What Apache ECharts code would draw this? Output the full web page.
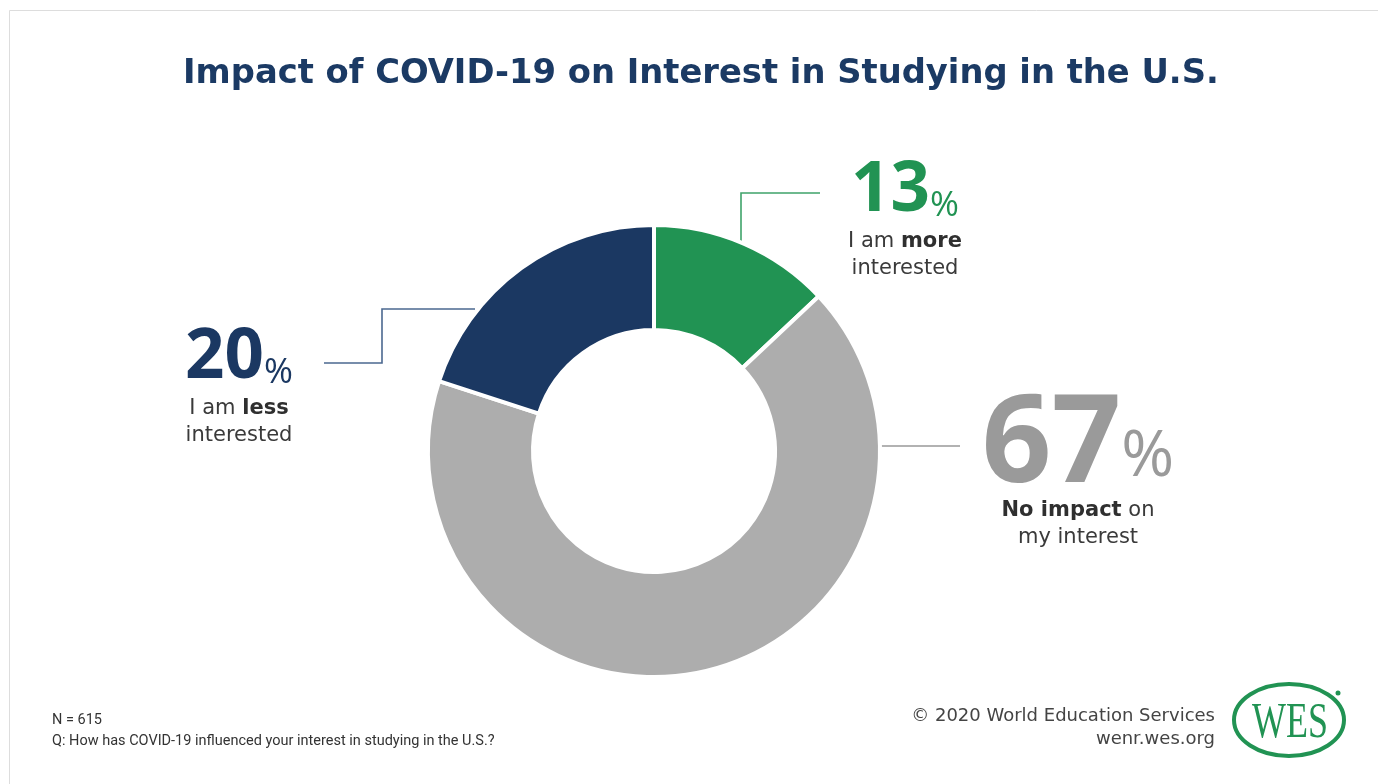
<!DOCTYPE html>
<html>
<head>
<meta charset="utf-8">
<script src="https://cdn.jsdelivr.net/npm/echarts@6/dist/echarts.min.js"></script>
<style>html,body{margin:0;padding:0;background:#fff;}#c{width:1378px;height:784px;}</style>
</head>
<body>
<div id="c"></div>
<script>
// ---- data ----
const categories = ['I am more interested', 'No impact on my interest', 'I am less interested'];
const values = [13, 67, 20];
const sliceColors = ['#219353', '#adadad', '#1b3862'];
const numberColors = ['#219353', '#9a9a9a', '#1b3862'];
// label text segments: [line1 segments, line2 segments]; segment = [text, bold?]
const labelLines = [
  [[['I am ', false], ['more', true]], [['interested', false]]],
  [[['No impact', true], [' on', false]], [['my interest', false]]],
  [[['I am ', false], ['less', true]], [['interested', false]]]
];
const titleText = 'Impact of COVID-19 on Interest in Studying in the U.S.';
const noteLines = ['N = 615', 'Q: How has COVID-19 influenced your interest in studying in the U.S.?'];
const creditLines = ['\u00A9 2020 World Education Services', 'wenr.wes.org'];

// ---- layout (positions only) ----
const FONT = '"DejaVu Sans", sans-serif';
const NUMFONT = '"Open Sans", sans-serif';
const numSizes = [69, 122, 69];
const numLineH = [74, 100, 74];
const pctSizes = [35, 64, 35];
const labelPos = [
  { x: 905, y: 154 },
  { x: 1078, y: 397 },
  { x: 239, y: 321 }
];
const linePts = [
  [[741, 244], [741, 193], [820, 193]],
  [[881, 446], [960, 446]],
  [[475, 309], [382, 309], [382, 363], [324, 363]]
];
const lineColors = ['#3fa36a', '#999999', '#4b6890'];

function buildLabel(i) {
  let s = '{n|' + values[i] + '}{p|%}';
  labelLines[i].forEach(line => {
    s += '\n' + line.map(seg => '{' + (seg[1] ? 'b' : 't') + '|' + seg[0] + '}').join('');
  });
  return s;
}

const data = values.map((v, i) => ({
  value: v,
  name: categories[i],
  itemStyle: { color: sliceColors[i] },
  label: {
    formatter: buildLabel(i),
    rich: {
      n: { fontFamily: NUMFONT, fontWeight: 'bold', fontSize: numSizes[i], color: numberColors[i], lineHeight: numLineH[i], letterSpacing: -1 },
      p: { fontFamily: NUMFONT, fontSize: pctSizes[i], color: numberColors[i], lineHeight: numLineH[i], verticalAlign: 'bottom', padding: [0, 0, numSizes[i] * 0.06, 0] },
      t: { fontFamily: FONT, fontSize: 21, color: '#3a3a3a', lineHeight: 27 },
      b: { fontFamily: FONT, fontSize: 21, fontWeight: 'bold', color: '#2f2f2f', lineHeight: 27 }
    }
  },
  labelLine: { lineStyle: { color: lineColors[i], width: 1.6 } }
}));

const chart = echarts.init(document.getElementById('c'), null, { renderer: 'canvas' });
chart.setOption({
  backgroundColor: '#ffffff',
  animation: false,
  title: {
    text: titleText,
    left: 183,
    top: 57,
    padding: 0,
    textStyle: { fontFamily: FONT, fontWeight: 'bold', fontSize: 33.75, color: '#1b3a64' }
  },
  series: [{
    type: 'pie',
    center: [654, 451],
    radius: [121, 226],
    startAngle: 90,
    clockwise: true,
    itemStyle: { borderColor: '#ffffff', borderWidth: 4 },
    label: { show: true, position: 'outside', align: 'center' },
    labelLine: { show: true, smooth: false },
    emphasis: { disabled: true },
    labelLayout: function (p) {
      const i = p.dataIndex;
      return {
        x: labelPos[i].x,
        y: labelPos[i].y,
        align: 'center',
        verticalAlign: 'top',
        labelLinePoints: linePts[i]
      };
    },
    data: data
  }],
  graphic: [
    { type: 'rect', shape: { x: 9.5, y: 10.5, width: 1400, height: 800 }, style: { fill: 'none', stroke: '#dddddd', lineWidth: 1 }, silent: true },
    { type: 'text', left: 52, top: 713, style: { text: noteLines[0], font: '14.5px Roboto, sans-serif', fill: '#333' } },
    { type: 'text', left: 52, top: 734, style: { text: noteLines[1], font: '14.5px Roboto, sans-serif', fill: '#333' } },
    { type: 'text', right: 163, top: 707, style: { text: creditLines[0], font: '18px ' + FONT, fill: '#444', align: 'right' } },
    { type: 'text', right: 163, top: 730, style: { text: creditLines[1], font: '18px ' + FONT, fill: '#444', align: 'right' } },
    { type: 'ellipse', shape: { cx: 1289, cy: 720, rx: 55, ry: 36 }, style: { fill: 'none', stroke: '#219353', lineWidth: 4 } },
    { type: 'circle', shape: { cx: 1338, cy: 693, r: 2.5 }, style: { fill: '#219353' } },
    { type: 'text', x: 1290, y: 724, scaleX: 0.72, style: { text: 'WES', font: '50px "Liberation Serif", "DejaVu Serif", serif', fill: '#219353', align: 'center', verticalAlign: 'middle' } }
  ]
});
</script>
</body>
</html>
